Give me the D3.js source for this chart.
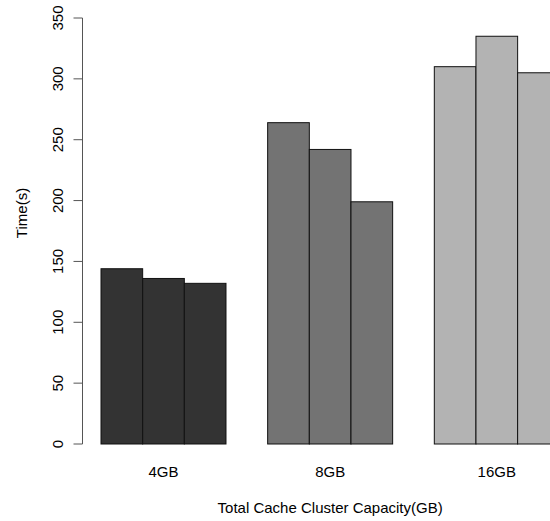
<!DOCTYPE html>
<html>
<head>
<meta charset="utf-8">
<script src="https://cdn.jsdelivr.net/npm/d3@7"></script>
<style>
  body { margin: 0; background: #fff; }
  svg { display: block; }
  text { font-family: "Liberation Sans", Arial, Helvetica, sans-serif; fill: #000; }
</style>
</head>
<body>
<div id="chart"></div>
<script>
"use strict";

// data
var capacities = ["4GB", "8GB", "16GB"];
var groupFills = ["#333333", "#737373", "#b3b3b3"];
var run1 = [144, 264, 310];
var run2 = [136, 242, 335];
var run3 = [132, 199, 305];
var yTicks = [0, 50, 100, 150, 200, 250, 300, 350];

var width = 550;
var height = 521;
var fontSize = 15;

var svg = d3.select("#chart")
  .append("svg")
  .attr("width", width)
  .attr("height", height);

// R barplot style layout: bars in unit slots, one empty slot before each group
var bars = [];
capacities.forEach(function(c, g){
  [run1, run2, run3].forEach(function(s, j){
    bars.push({group: g, cap: c, value: s[g], slot: 1 + g*4 + j});
  });
});

var x = d3.scaleLinear().domain([1, 12]).range([101, 559.3]);
var y = d3.scaleLinear().domain([0, 350]).range([444, 18]);

svg.selectAll("rect.bar")
  .data(bars)
  .enter()
  .append("rect")
  .attr("class", "bar")
  .attr("x", function(d){ return x(d.slot); })
  .attr("y", function(d){ return y(d.value); })
  .attr("width", function(d){ return x(d.slot + 1) - x(d.slot); })
  .attr("height", function(d){ return y(0) - y(d.value); })
  .style("fill", function(d){ return groupFills[d.group]; })
  .style("stroke", "#111")
  .style("stroke-width", 1);

// y axis
var axisX = 82.5;
var yAxis = svg.append("g");
yAxis.append("line")
  .attr("x1", axisX).attr("x2", axisX)
  .attr("y1", y(0)).attr("y2", y(350))
  .style("stroke", "#555").style("stroke-width", 1);

yAxis.selectAll("line.tick")
  .data(yTicks)
  .enter()
  .append("line")
  .attr("class", "tick")
  .attr("x1", axisX - 9).attr("x2", axisX)
  .attr("y1", function(d){ return y(d); })
  .attr("y2", function(d){ return y(d); })
  .style("stroke", "#555").style("stroke-width", 1);

yAxis.selectAll("text.ticklabel")
  .data(yTicks)
  .enter()
  .append("text")
  .attr("class", "ticklabel")
  .attr("transform", function(d){ return "translate(63," + y(d) + ") rotate(-90)"; })
  .attr("text-anchor", "middle")
  .style("font-size", fontSize + "px")
  .text(function(d){ return d; });

svg.append("text")
  .attr("transform", "translate(27,213) rotate(-90)")
  .attr("text-anchor", "middle")
  .style("font-size", fontSize + "px")
  .text("Time(s)");

// group labels
svg.selectAll("text.grouplabel")
  .data(capacities)
  .enter()
  .append("text")
  .attr("class", "grouplabel")
  .attr("x", function(d, g){ return x(1 + g*4 + 1.5); })
  .attr("y", 477)
  .attr("text-anchor", "middle")
  .style("font-size", fontSize + "px")
  .text(function(d){ return d; });

svg.append("text")
  .attr("x", x(6.5))
  .attr("y", 513)
  .attr("text-anchor", "middle")
  .style("font-size", fontSize + "px")
  .text("Total Cache Cluster Capacity(GB)");
</script>
</body>
</html>
